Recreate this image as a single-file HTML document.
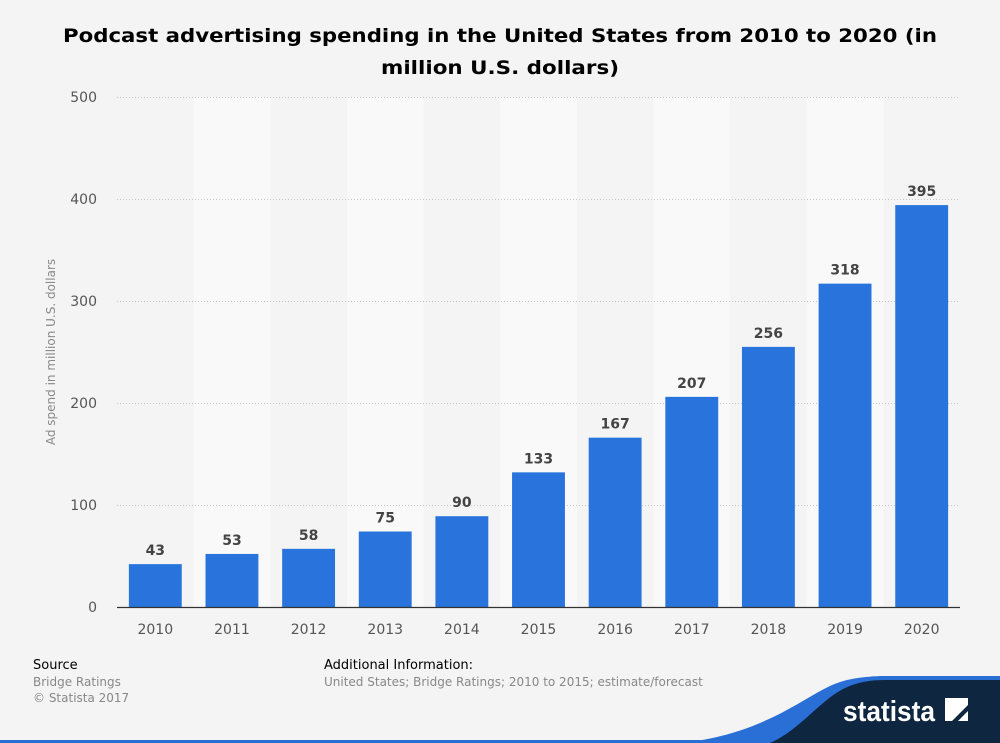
<!DOCTYPE html>
<html><head><meta charset="utf-8"><style>
body{margin:0;background:#f4f4f4;font-family:"DejaVu Sans","Liberation Sans",sans-serif;}
svg{display:block}
</style></head><body>
<svg id="chart" width="1000" height="743" viewBox="0 0 1000 743">
<rect width="1000" height="743" fill="#f4f4f4"/>
<text x="500" y="42" text-anchor="middle" font-size="19" font-weight="bold" fill="#000" textLength="874" lengthAdjust="spacingAndGlyphs">Podcast advertising spending in the United States from 2010 to 2020 (in</text>
<text x="500" y="74" text-anchor="middle" font-size="19" font-weight="bold" fill="#000" textLength="238" lengthAdjust="spacingAndGlyphs">million U.S. dollars)</text>
<g id="bands"></g><g id="grid"></g><g id="bars"></g><g id="labels"></g><g id="xt"></g><g id="yt"></g>
<line x1="117" x2="960" y1="607.5" y2="607.5" stroke="#333" stroke-width="1.2"/>
<text transform="translate(55,352) rotate(-90)" text-anchor="middle" font-size="12" fill="#888">Ad spend in million U.S. dollars</text>
<text x="33" y="669" font-size="13" fill="#000">Source</text>
<text x="33" y="686" font-size="12" fill="#888">Bridge Ratings</text>
<text x="33" y="702" font-size="12" fill="#888">© Statista 2017</text>
<text x="324" y="669" font-size="13" fill="#000">Additional Information:</text>
<text x="324" y="686" font-size="12" fill="#888">United States; Bridge Ratings; 2010 to 2015; estimate/forecast</text>
<rect x="0" y="740" width="1000" height="3" fill="#2a6fd6"/>
<path d="M680,743 C760,735 800,700 830,686 C845,679 860,677 880,676 L1000,676 L1000,743 Z" fill="#2a6fd6"/>
<path d="M770,743 C800,730 820,700 845,688 C858,682 870,680 885,680 L1000,680 L1000,743 Z" fill="#0f2640"/>
<text x="843" y="721" font-size="29" font-weight="bold" fill="#fff" font-family="'Liberation Sans',sans-serif" textLength="92" lengthAdjust="spacingAndGlyphs">statista</text>
<path d="M945,698 L968,698 L968,705 L952,721 L945,721 Z M958,721 L968,711 L968,721 Z" fill="#fff"/>
</svg>
<script>
const categories=["2010","2011","2012","2013","2014","2015","2016","2017","2018","2019","2020"];
const values=[43,53,58,75,90,133,167,207,256,318,395];
const yTicks=[0,100,200,300,400,500];
const NS="http://www.w3.org/2000/svg";
const L=117,R=960,Y0=607,Y1=97,MAX=500;
const bw=(R-L)/categories.length;
const y=v=>Y0-(v/MAX)*(Y0-Y1);
const x=i=>L+bw*i;
function mk(t,a,p){const e=document.createElementNS(NS,t);for(const k in a)e.setAttribute(k,a[k]);p.appendChild(e);return e;}
const g=id=>document.getElementById(id);
categories.forEach((c,i)=>{
 if(i%2===1){const b=mk('rect',{x:x(i),y:Y1,width:bw,height:Y0-Y1,fill:'#f9f9f9'},g('bands'));
 
 }
 const r=mk('rect',{x:x(i)+bw*0.155,y:y(values[i])+1,width:bw*0.69,height:Y0-y(values[i])-1,fill:'#2874dc'},g('bars'));
 
 
 const t=mk('text',{x:x(i)+bw/2,y:y(values[i])-8,'text-anchor':'middle','font-size':14,'font-weight':'bold',fill:'#444'},g('labels'));
 t.textContent=values[i];
 
 
 const xt=mk('text',{x:x(i)+bw/2,y:634,'text-anchor':'middle','font-size':14,fill:'#555'},g('xt'));
 xt.textContent=c;
 
 
});
yTicks.forEach(v=>{
 if(v>0){const l=mk('line',{x1:L,x2:R,y1:y(v)+0.5,y2:y(v)+0.5,stroke:'#c8c8c8','stroke-dasharray':'1,2'},g('grid'));
 
 }
 const t=mk('text',{x:97,y:y(v)+5,'text-anchor':'end','font-size':14,fill:'#555'},g('yt'));
 t.textContent=v;
 
 
});
</script>
</body></html>
